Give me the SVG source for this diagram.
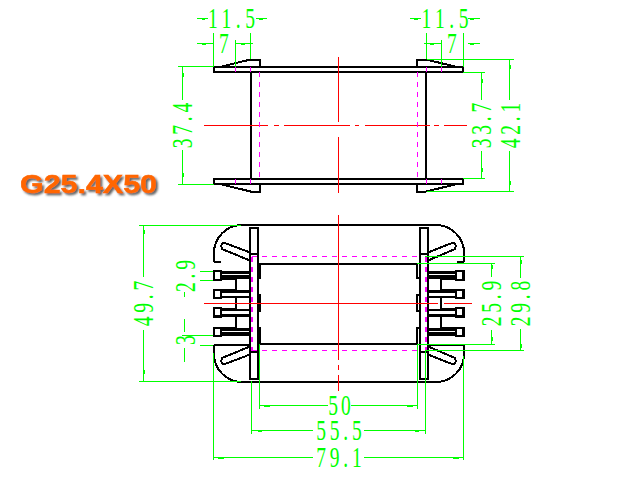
<svg xmlns="http://www.w3.org/2000/svg" width="640" height="480" viewBox="0 0 640 480">
<defs>
<filter id="sh" x="-10%" y="-30%" width="120%" height="170%"><feDropShadow dx="2" dy="2" stdDeviation="1.2" flood-color="#444" flood-opacity="0.85"/></filter>
</defs>
<style>
path{shape-rendering:crispEdges}
.k{fill:none;stroke:#000;stroke-width:2}
.p{fill:none;stroke:#000;stroke-width:2.5}
.b{fill:none;stroke:#000;stroke-width:3.500}
.g{fill:none;stroke:#00ff00;stroke-width:1}
.t{fill:none;stroke:#00ff00;stroke-width:2}
.r{fill:none;stroke:#ff0000;stroke-width:1}
.m{fill:none;stroke:#ff00ff;stroke-width:1}
.n{fill:none;stroke:#ff00ff;stroke-width:2}
.d{stroke-dasharray:5 5}
text{font-family:"Liberation Serif",serif;fill:#00ff00;font-size:30px;text-anchor:middle}
#title text{font-family:"Liberation Sans",sans-serif;font-weight:bold;font-size:25.5px;fill:#ff6600;stroke:#ff6600;stroke-width:.5;text-anchor:start;filter:url(#sh)}
</style>
<rect width="640" height="480" fill="#fff"/>
<g id="title"><text x="20" y="193" textLength="137" lengthAdjust="spacingAndGlyphs">G25.4X50</text></g>
<g id="top-view">
<path class="k" d="M214 67H463V72H214ZM214 179H463V184H214Z"/>
<path class="k" d="M250.500 72V179M426 72V179"/>
<path class="k" d="M222 66.500L250.500 59.500H260V67M222 184.500L250.500 191.500H260V184"/>
<path class="k" d="M455 66.500L426 59.500H417V67M455 184.500L426 191.500H417V184"/>
</g>
<g id="bottom-view">
<path class="k" d="M241 225H437M241 382H437"/>
<path class="k" d="M214 262H221M214 262V253A28 28 0 0 1 241 225M214 345V354A28 28 0 0 0 241 382"/>
<path class="k" d="M464 262H457M464 262V253A28 28 0 0 0 437 225M464 345V354A28 28 0 0 1 437 382"/>
<path class="k" d="M250 228H257.500V379H250ZM420 228H427.500V379H420Z"/>
<path class="k" d="M250 254H257.500M250 352H257.500M420 254H427.500M420 352H427.500"/>
<path class="k" d="M257.500 278H259.500V263.500H417V278H420M257.500 328H259.500V344H417V328H420M257.500 295H260V311H257.500M420 295H417V311H420"/>
<path class="k" d="M250 252.500L225 243Q220 243 222 249L250 260.500M250 354.500L225 364Q220 364 222 358L250 346.500"/>
<path class="k" d="M428 252.500L452 243Q457 243 455 249L428 260.500M428 354.500L452 364Q457 364 455 358L428 346.500"/>
<path class="p" d="M214 271H221V280H214ZM214 290H221V298H214ZM214 308H221V316.500H214ZM214 328H221V336H214Z"/>
<path class="p" d="M463.500 271H456V280H463.500ZM463.500 290H456V298H463.500ZM463.500 308H456V316.500H463.500ZM463.500 328H456V336H463.500Z"/>
<path class="b" d="M221 272.500H250M221 277H250M221 329.500H250M221 334H250M456 272.500H428M456 277H428M456 329.500H428M456 334H428"/>
<path class="k" d="M221 279H236V290H221M221 297H236V308.500H221M221 316H236V328H221"/>
<path class="p" d="M221 291.500H250M221 297H250M221 310H250M221 315.500H250"/>
<path class="k" d="M456 279H441V290H456M456 297H441V308.500H456M456 316H441V328H456"/>
<path class="p" d="M456 291.500H428M456 297H428M456 310H428M456 315.500H428"/>
<path class="k" d="M214 345H250M464 345H428"/>
</g>
<g id="center-lines">
<path class="r" d="M338.500 57V122M338.500 137V193"/>
<path class="r" d="M204 125.500H268M274 125.500H279M284 125.500H350M355 125.500H359M365 125.500H430M434 125.500H439M444 125.500H467"/>
<path class="r" d="M338.500 215V360M338.500 365V370M338.500 375V391"/>
<path class="r" d="M204 303.500H438M444 303.500H472"/>
<path class="m d" d="M259.500 72V179M417.500 72V179"/>
<path class="m" d="M235.500 67V72M235.500 179V184M250.500 67V72M250.500 179V184M441.500 67V72M441.500 179V184M426.500 67V72M426.500 179V184"/>
<path class="m d" d="M252 256.500H417M252 350.500H417"/>
<path class="n d" d="M251.500 256.500V350.500M425.500 256.500V350.500"/>
</g>
<g id="connectors">
<path class="g" d="M213.500 33V66M250.500 33V59M235.500 40V67M426.500 33V59M463.500 33V67M441.500 40V67"/>
<path class="g" d="M197 18.500H208M256 18.500H267M197 43.500H213M235 43.500H253M410 18.500H421M468 18.500H480M424 43.500H441M468 43.500H480"/>
<path class="g" d="M178 66.500H214M178 184.500H214M182.500 67V100M182.500 150V184"/>
<path class="g" d="M463 72.500H485M463 178.500H485M481.500 72V100M481.500 151V178.500"/>
<path class="g" d="M427 59.500H514M427 191.500H514M509.500 60V100M509.500 151V191"/>
<path class="g" d="M139 225.500H241M139 381.500H241M143.500 225V277M143.500 330V381"/>
<path class="g" d="M200 271.500H213M200 280.500H213M182 335.500H213M200 345.500H213M184.500 319V332M184.500 348V362M184.500 292V297"/>
<path class="g" d="M417 263.500H495M417 344.500H495M491.500 263.500V277M491.500 330V344"/>
<path class="g" d="M425 256.500H524M425 350.500H524M520.500 256.500V278M520.500 329V350"/>
<path class="g" d="M213.500 353V460M251.500 381V434M259.500 344V409M417.500 344V409M425.500 350V434M463.500 356V460"/>
<path class="g" d="M259 405.500H328M351 405.500H417M251.500 430.500H313M364 430.500H425.500M213.500 457.500H313M364 457.500H463.500"/>
<path class="t" d="M264 405.500H270M407 405.500H413M258 430.500H262M415 430.500H419M218 457.500H224M453 457.500H459M182.500 73V77M182.500 173V177M481.500 79V83M481.500 168V172M509.500 65V69M509.500 181V185M143.500 230V234M143.500 370V374M491.500 265V269M491.500 337V341M520.500 260V264M520.500 344V348M202 18.500H205M259 18.500H263M202 43.500H206M241 43.500H245M414 18.500H418M470 18.500H474M430 43.500H434M470 43.500H474"/>
</g>
<g id="labels">
<text transform="translate(231.500 28) scale(.65 1)" textLength="72" lengthAdjust="spacing">11.5</text>
<text transform="translate(224 53) scale(.65 1)">7</text>
<text transform="translate(445 28) scale(.65 1)" textLength="72" lengthAdjust="spacing">11.5</text>
<text transform="translate(452 53) scale(.65 1)">7</text>
<text transform="translate(192 125.500) rotate(-90) scale(.65 1)" textLength="70" lengthAdjust="spacing">37.4</text>
<text transform="translate(491 125.500) rotate(-90) scale(.65 1)" textLength="70" lengthAdjust="spacing">33.7</text>
<text transform="translate(520 125.500) rotate(-90) scale(.65 1)" textLength="70" lengthAdjust="spacing">42.1</text>
<text transform="translate(153 303.500) rotate(-90) scale(.65 1)" textLength="70" lengthAdjust="spacing">49.7</text>
<text transform="translate(195 276) rotate(-90) scale(.65 1)" textLength="49" lengthAdjust="spacing">2.9</text>
<text transform="translate(195 340) rotate(-90) scale(.65 1)">3</text>
<text transform="translate(501 303.500) rotate(-90) scale(.65 1)" textLength="70" lengthAdjust="spacing">25.9</text>
<text transform="translate(530 303.500) rotate(-90) scale(.65 1)" textLength="70" lengthAdjust="spacing">29.8</text>
<text transform="translate(339.500 415) scale(.65 1)" textLength="35" lengthAdjust="spacing">50</text>
<text transform="translate(339 440) scale(.65 1)" textLength="70" lengthAdjust="spacing">55.5</text>
<text transform="translate(339 467) scale(.65 1)" textLength="70" lengthAdjust="spacing">79.1</text>
</g>
</svg>
